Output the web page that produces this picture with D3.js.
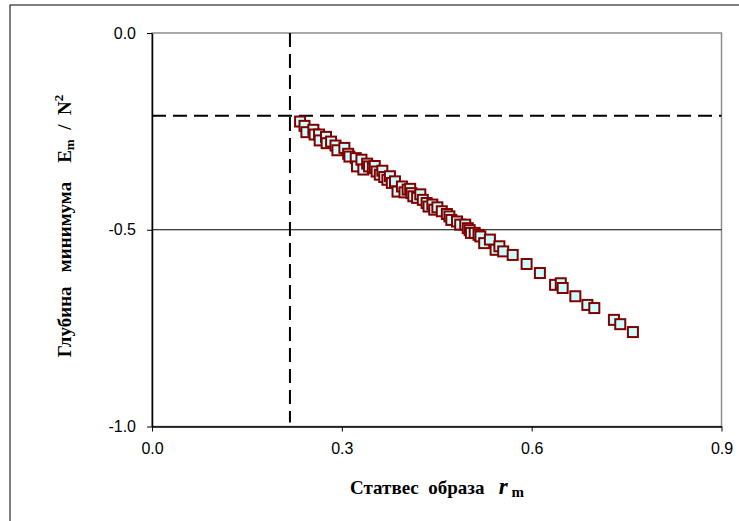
<!DOCTYPE html>
<html>
<head>
<meta charset="utf-8">
<script src="https://cdn.jsdelivr.net/npm/d3@7"></script>
<style>
  body { margin: 0; background: #fff; }
  svg { display: block; }
  .ttl { font-family: "Liberation Serif", "Times New Roman", serif; font-weight: bold; font-size: 19px; fill: #000; white-space: pre; }
</style>
</head>
<body>
<div id="chart"></div>
<script>
// data: statistical weight r_m vs depth E_m / N^2
const rValues = [0.234, 0.241, 0.244, 0.255, 0.257, 0.264, 0.265, 0.275, 0.276, 0.283, 0.290, 0.293,
  0.304, 0.310, 0.312, 0.322, 0.324, 0.331, 0.334, 0.340, 0.343, 0.349, 0.352, 0.355, 0.360, 0.364,
  0.367, 0.372, 0.376, 0.379, 0.384, 0.388, 0.395, 0.399, 0.404, 0.408, 0.410, 0.413, 0.419, 0.424,
  0.428, 0.434, 0.437, 0.443, 0.446, 0.451, 0.458, 0.466, 0.470, 0.473, 0.482, 0.487, 0.495, 0.499,
  0.502, 0.504, 0.510, 0.516, 0.519, 0.525, 0.534, 0.543, 0.549, 0.555, 0.570, 0.592, 0.613, 0.637,
  0.646, 0.649, 0.669, 0.688, 0.699, 0.730, 0.740, 0.760]
const eValues = [-0.225, -0.236, -0.252, -0.246, -0.258, -0.258, -0.273, -0.264, -0.280, -0.276, -0.286, -0.298,
  -0.292, -0.307, -0.314, -0.318, -0.339, -0.322, -0.347, -0.332, -0.339, -0.343, -0.338, -0.352, -0.360, -0.350,
  -0.366, -0.373, -0.364, -0.381, -0.377, -0.403, -0.390, -0.405, -0.398, -0.396, -0.407, -0.415, -0.419, -0.410,
  -0.424, -0.432, -0.441, -0.436, -0.449, -0.443, -0.453, -0.460, -0.466, -0.475, -0.479, -0.487, -0.487, -0.496,
  -0.501, -0.508, -0.508, -0.513, -0.517, -0.534, -0.525, -0.551, -0.542, -0.555, -0.564, -0.587, -0.610, -0.640,
  -0.636, -0.648, -0.669, -0.691, -0.699, -0.729, -0.740, -0.760]

const xTicks = [0, 0.3, 0.6, 0.9]
const yTicks = [0, -0.5, -1]
const rThreshold = 0.218   // vertical dashed line
const eThreshold = -0.21   // horizontal dashed line

const W = 739, H = 521
const pLeft = 152, pRight = 721.5, pTop = 33, pBottom = 426.5

let svg = d3.select("#chart").append("svg").attr("width", W).attr("height", H)

//outer chart border
svg.append("rect").attr("x", 10).attr("y", 5).attr("width", W + 10).attr("height", H + 10)
  .attr("fill", "none").attr("stroke", "#000").attr("stroke-width", 1)

let x = d3.scaleLinear().domain([0, 0.9]).range([pLeft, pRight])
let y = d3.scaleLinear().domain([-1, 0]).range([pBottom, pTop])

//plot area border (gray)
svg.append("rect").attr("x", pLeft).attr("y", pTop).attr("width", pRight - pLeft).attr("height", pBottom - pTop)
  .attr("fill", "none").attr("stroke", "#8c8c8c").attr("stroke-width", 1.5)

//gridline at -0.5
svg.append("line").attr("x1", pLeft).attr("x2", pRight).attr("y1", y(-0.5)).attr("y2", y(-0.5))
  .attr("stroke", "#000").attr("stroke-width", 1)

//axes
let xAxis = svg.append("g").attr("transform", `translate(0,${pBottom})`)
  .call(d3.axisBottom(x).tickValues(xTicks).tickFormat(d3.format(".1f")).tickSizeOuter(0).tickSizeInner(5).tickPadding(11))
let yAxis = svg.append("g").attr("transform", `translate(${pLeft},0)`)
  .call(d3.axisLeft(y).tickValues(yTicks).tickFormat(d3.format(".1f")).tickSizeOuter(0).tickSizeInner(5).tickPadding(11))
xAxis.select(".domain").attr("stroke", "#000").attr("stroke-width", 1.5)
yAxis.select(".domain").attr("stroke", "#000").attr("stroke-width", 1.5)
svg.selectAll(".tick line").attr("stroke", "#000")
yAxis.selectAll(".tick text").text(d => d === 0 ? "0.0" : d3.format(".1f")(d).replace("−", "-"))
svg.selectAll(".tick text").attr("font-family", "Liberation Sans, Arial, sans-serif")
  .attr("font-size", 16).attr("fill", "#000")

//dashed threshold lines
svg.append("line").attr("x1", x(rThreshold)).attr("x2", x(rThreshold)).attr("y1", pTop).attr("y2", pBottom - 4)
  .attr("stroke", "#000").attr("stroke-width", 2).attr("stroke-dasharray", "14,7")
svg.append("line").attr("x1", pLeft).attr("x2", pRight).attr("y1", y(eThreshold)).attr("y2", y(eThreshold))
  .attr("stroke", "#000").attr("stroke-width", 2).attr("stroke-dasharray", "14,7")

//points
let pts = rValues.map((r, i) => ({ r: r, e: eValues[i] }))
svg.append("g").selectAll("rect").data(pts).enter().append("rect")
  .attr("x", d => x(d.r) - 5).attr("y", d => y(d.e) - 5)
  .attr("width", 10).attr("height", 10)
  .attr("fill", "#ccffff").attr("stroke", "#800000").attr("stroke-width", 2)

//axis titles
let xt = svg.append("text").attr("class", "ttl").attr("x", 437).attr("y", 494).attr("text-anchor", "middle")
xt.append("tspan").text("Статвес  образа   ")
xt.append("tspan").attr("font-style", "italic").attr("font-size", 23).text("r")
xt.append("tspan").attr("font-size", 15).attr("dy", 3).text(" m")

let yt = svg.append("text").attr("class", "ttl").attr("transform", "translate(71,226) rotate(-90)").attr("text-anchor", "middle")
yt.append("tspan").text("Глубина   минимума    E")
yt.append("tspan").attr("font-size", 13).attr("dy", 3).text("m")
yt.append("tspan").attr("dy", -3).text("  /  N")
yt.append("tspan").attr("font-size", 13).attr("dy", -8).text("2")
</script>
</body>
</html>
